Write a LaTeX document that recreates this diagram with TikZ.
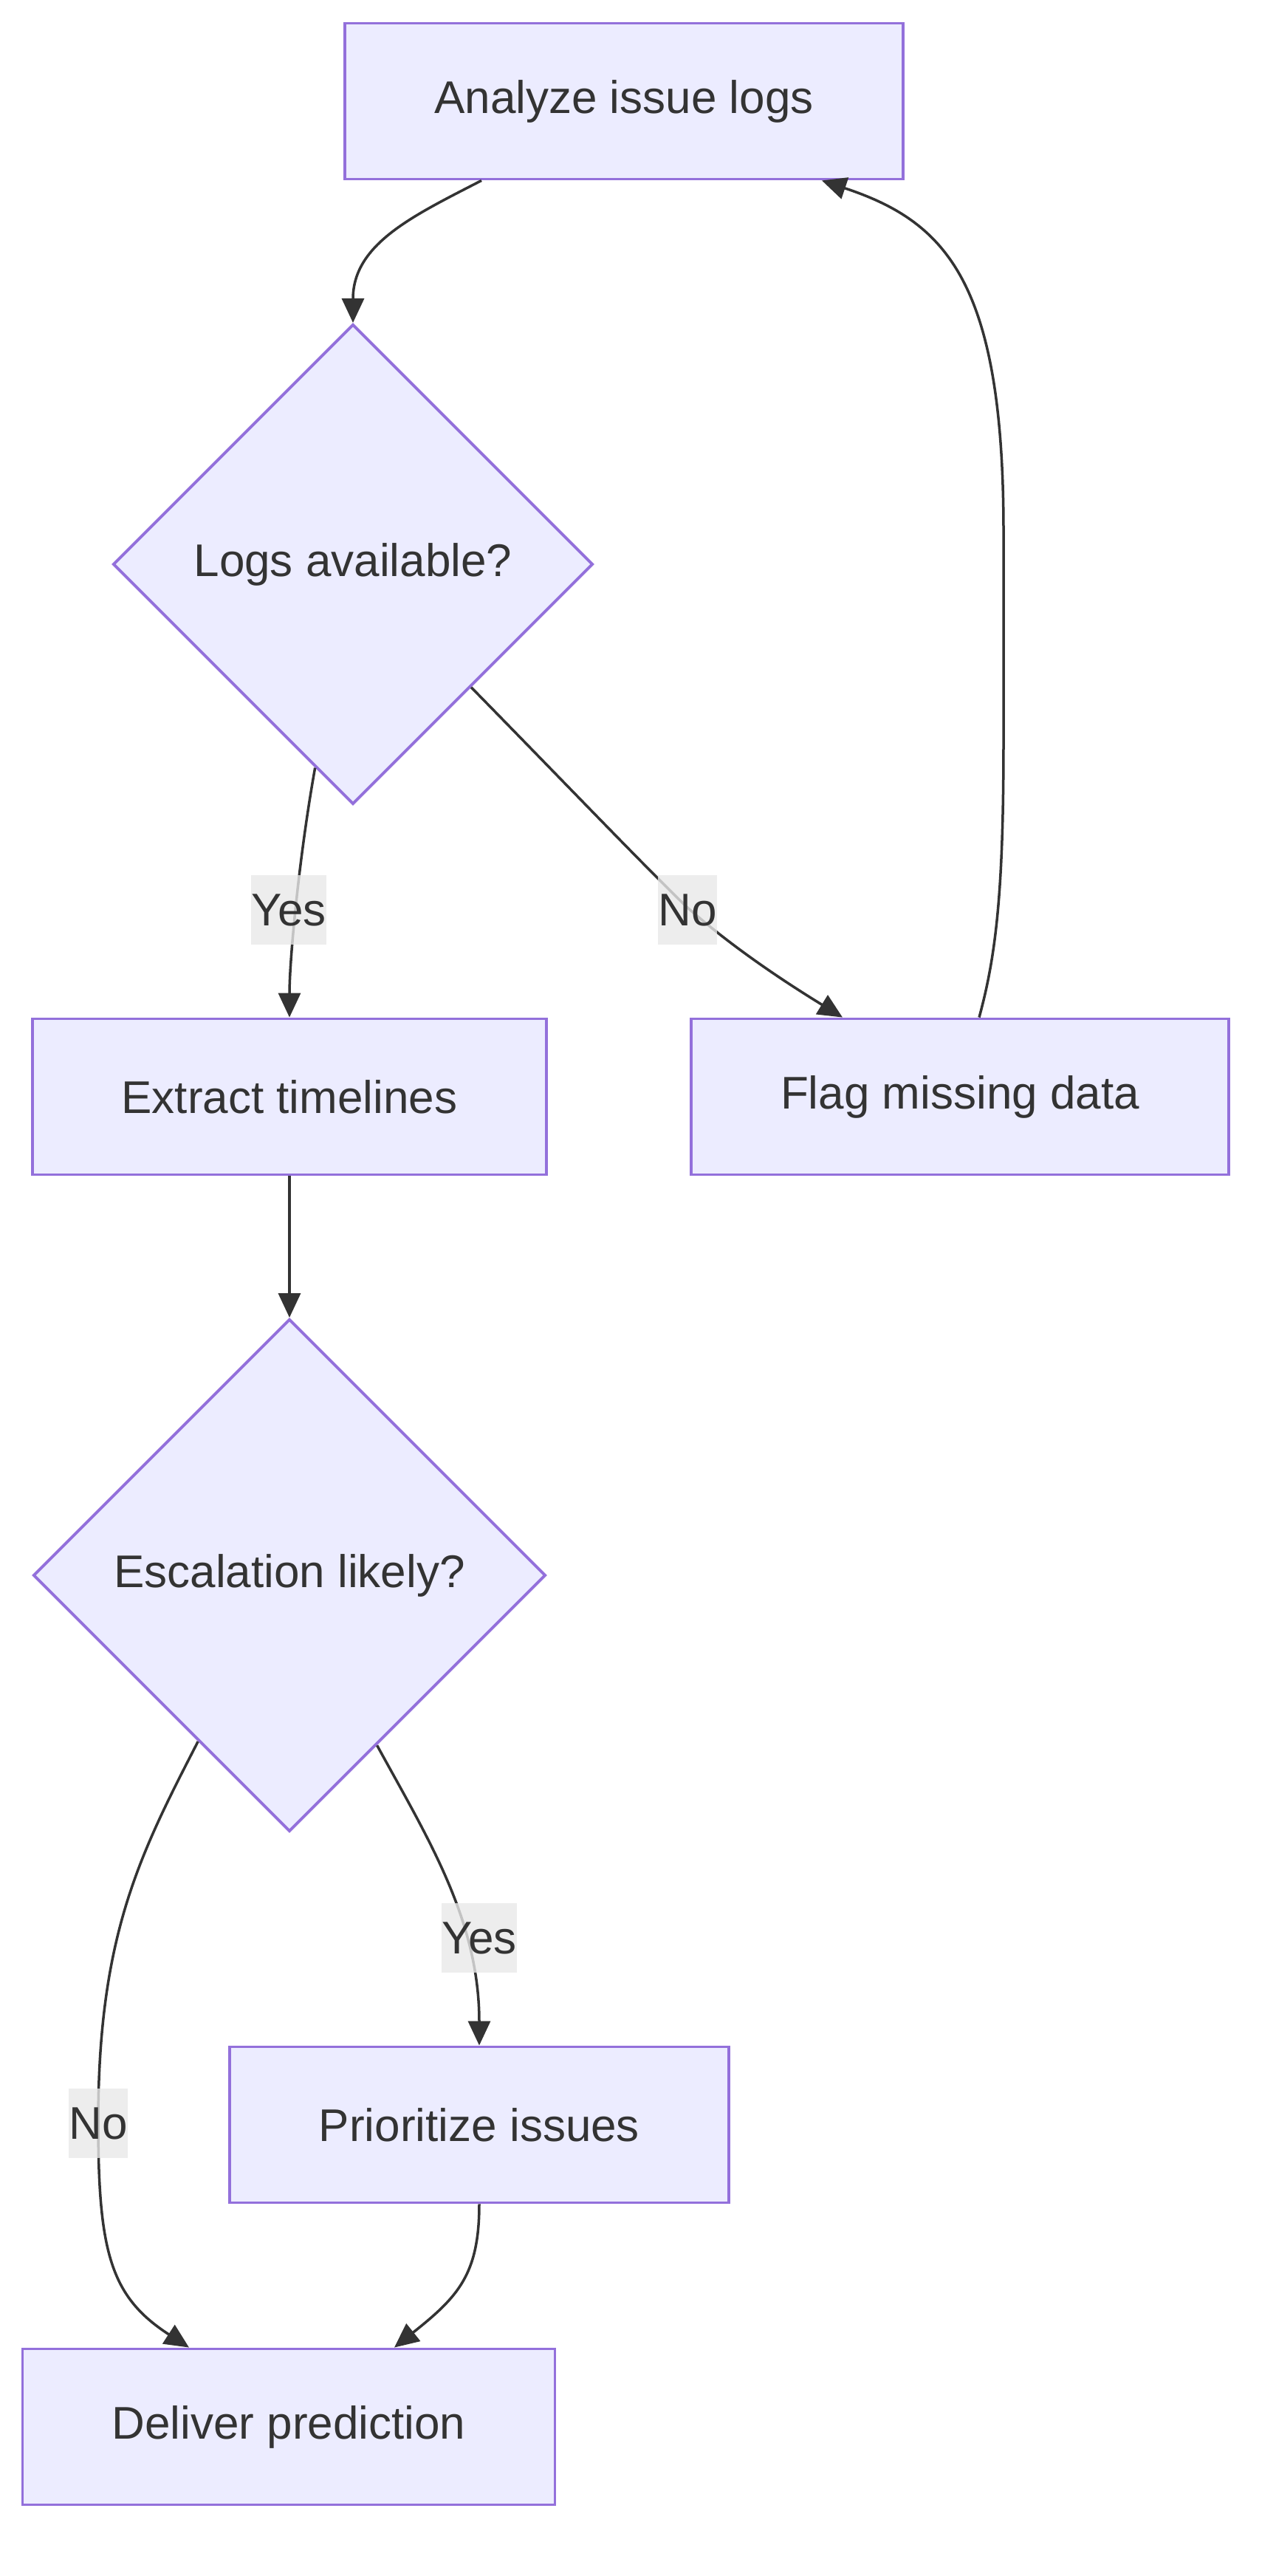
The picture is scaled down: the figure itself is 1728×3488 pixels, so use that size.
\documentclass[tikz,border=0pt]{standalone}
\usepackage{fontspec}
\setmainfont{Liberation Sans}
\usetikzlibrary{shapes.geometric,arrows.meta,calc}
\definecolor{nodefill}{HTML}{ECECFF}
\definecolor{nodeline}{HTML}{9370DB}
\definecolor{txt}{HTML}{333333}
\definecolor{lblbg}{HTML}{E8E8E8}
\begin{document}
\begin{tikzpicture}[x=1pt,y=-1pt,
  box/.style={rectangle, draw=nodeline, fill=nodefill, line width=3.9pt, minimum height=211pt, inner sep=0pt, text=txt, font=\fontsize{62}{74}\selectfont},
  dec/.style={diamond, aspect=1, draw=nodeline, fill=nodefill, line width=3.9pt, inner sep=0pt, text=txt, font=\fontsize{62}{74}\selectfont},
  edge/.style={draw=txt, line width=3.5pt, -{Triangle[length=33pt,width=30pt]}},
  lbl/.style={fill=lblbg, fill opacity=0.8, text opacity=1, text=txt, inner xsep=0pt, inner ysep=0pt, minimum height=94pt, font=\fontsize{62}{74}\selectfont}]
\useasboundingbox (0,0) rectangle (1728,3488);
\node[box, minimum width=756pt] (A) at (845,137) {Analyze issue logs};
\node[dec, minimum width=650pt, minimum height=650pt] (B) at (478,764) {Logs available?};
\node[box, minimum width=696pt] (C) at (392,1485) {Extract timelines};
\node[box, minimum width=728pt] (D) at (1300,1485) {Flag missing data};
\node[dec, minimum width=694pt, minimum height=694pt] (E) at (392,2133) {Escalation likely?};
\node[box, minimum width=676pt] (F) at (649,2877) {Prioritize issues};
\node[box, minimum width=721pt] (G) at (391,3286) {Deliver prediction};

% A -> B
\draw[edge] ([xshift=-193pt]A.south) .. controls (560,292) and (478,330) .. (B.north);
% B -> C (Yes)
\draw[edge] ($(B.west)!0.843!(B.south)$) .. controls (405,1160) and (392,1300) .. (C.north);
% B -> D (No)
\draw[edge] ($(B.south)!0.49!(B.east)$) .. controls (760,1055) and (870,1170) .. (930,1228) .. controls (1000,1290) and (1080,1340) .. ([xshift=-159pt]D.north);
% D -> A
\draw[edge] ([xshift=26pt]D.north) .. controls (1350,1290) and (1359,1200) .. (1359,1000) -- (1359,720) .. controls (1359,380) and (1280,300) .. ([xshift=268pt]A.south);
% C -> E
\draw[edge] (C.south) -- (E.north);
% E -> F (Yes)
\draw[edge] ($(E.south)!0.34!(E.east)$) .. controls (580,2490) and (649,2600) .. (F.north);
% E -> G (No)
\draw[edge] ($(E.west)!0.645!(E.south)$) .. controls (190,2510) and (133,2620) .. (133,2873) .. controls (133,3050) and (150,3110) .. ([xshift=-135pt]G.north);
% F -> G
\draw[edge] (F.south) .. controls (649,3080) and (620,3110) .. ([xshift=143pt]G.north);

\node[lbl] (l1) at (391,1232) {Yes};
\node[lbl] (l2) at (931,1232) {No};
\node[lbl] (l3) at (649,2624) {Yes};
\node[lbl] (l4) at (133,2875) {No};
\end{tikzpicture}
\end{document}
